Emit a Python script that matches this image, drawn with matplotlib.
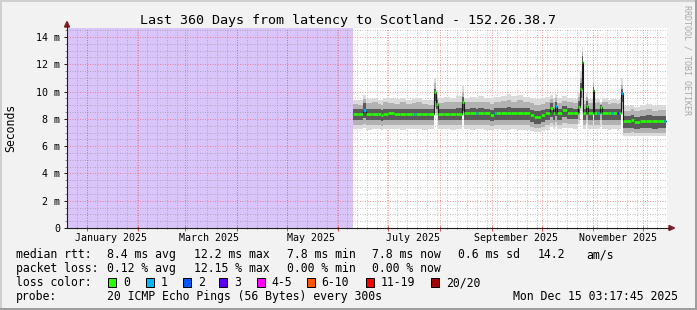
import matplotlib
matplotlib.use("Agg")
import matplotlib.pyplot as plt
from matplotlib.patches import Polygon, Rectangle
from matplotlib.lines import Line2D
from matplotlib.transforms import blended_transform_factory

plt.rcParams['font.family'] = 'DejaVu Sans Mono'

W, H = 697, 310

# ---------------- data ----------------
# time axis: days since graph start (Fri Dec 20 2024 03:17:45), 360 days shown
span_days = 360
start_frac = 0.137  # 03:17:45 as part of a day

# first day of each month 2025, counted from Dec 20 2024 00:00
month_start = [12, 43, 71, 102, 132, 163, 193, 224, 255, 285, 316, 346]
label_start = [12, 71, 132, 193, 255, 316]
month_labels = ["January 2025", "March 2025", "May 2025", "July 2025",
                "September 2025", "November 2025"]

y_ticks = [0, 2, 4, 6, 8, 10, 12, 14]
y_labels = ["0", "2 m", "4 m", "6 m", "8 m", "10 m", "12 m", "14 m"]

# start day of every rrd step (days since graph start); data ends at day_end
day = [171.6, 174.6, 177.6, 179.4, 183.0, 186.6, 188.4, 189.6, 192.6, 196.2,
       199.8, 203.4, 207.0, 208.2, 209.4, 213.0, 216.6, 220.2, 221.4, 222.6,
       226.2, 229.8, 233.4, 237.0, 238.2, 241.8, 245.4, 246.6, 250.2, 253.8,
       256.2, 257.4, 260.4, 264.0, 266.4, 270.0, 273.6, 277.8, 280.2, 284.4,
       286.8, 289.8, 291.6, 292.8, 294.0, 297.0, 300.0, 303.6, 306.6, 307.8,
       308.7, 309.6, 311.4, 312.6, 315.3, 316.2, 318.0, 319.2, 319.8, 321.0,
       324.6, 326.4, 327.6, 330.0, 331.2, 332.1, 333.6, 338.4, 340.2, 343.8,
       347.4, 351.0, 354.6, 358.2]
day_end = 359.4

# median rtt (ms)
median = [8.36, 8.36, 8.65, 8.35, 8.35, 8.35, 8.25, 8.35, 8.42, 8.36,
          8.36, 8.36, 8.36, 8.36, 8.36, 8.36, 8.36, 9.95, 9.12, 8.36,
          8.38, 8.38, 8.38, 9.20, 8.40, 8.40, 8.40, 8.40, 8.40, 8.30,
          8.40, 8.40, 8.40, 8.40, 8.40, 8.40, 8.40, 8.25, 8.13, 8.25,
          8.40, 8.77, 8.40, 8.94, 8.40, 8.65, 8.45, 8.45, 8.90, 10.19,
          12.20, 8.40, 8.92, 8.40, 10.10, 8.40, 8.40, 8.40, 8.87, 8.40,
          8.40, 8.40, 8.40, 8.40, 8.40, 9.87, 7.85, 7.95, 7.80, 7.87,
          7.87, 7.87, 7.87, 7.87]

# smoke: sorted ping quantiles (ms), outer -> inner
ping_max = [9.40, 9.35, 9.75, 9.45, 9.50, 9.40, 9.40, 9.55, 9.50, 9.45,
            9.55, 9.40, 9.50, 9.45, 9.50, 9.40, 9.35, 11.00, 9.85, 9.50,
            9.60, 9.55, 9.65, 10.50, 9.55, 9.60, 9.55, 9.65, 9.55, 9.50,
            9.60, 9.60, 9.70, 9.85, 9.65, 9.75, 9.60, 9.55, 9.45, 9.50,
            9.60, 9.75, 9.55, 9.80, 9.50, 9.65, 9.55, 9.45, 9.90, 11.50,
            13.30, 9.40, 9.87, 9.45, 11.00, 9.45, 9.50, 9.45, 9.26, 9.50,
            9.40, 9.45, 9.45, 9.40, 9.45, 10.97, 8.95, 9.05, 8.90, 9.00,
            9.10, 8.95, 9.05, 9.00]
ping_hi2 = [9.10, 9.05, 9.45, 9.15, 9.20, 9.10, 9.05, 9.20, 9.15, 9.10,
            9.20, 9.10, 9.15, 9.15, 9.20, 9.10, 9.05, 10.60, 9.60, 9.15,
            9.20, 9.20, 9.25, 10.00, 9.20, 9.25, 9.20, 9.25, 9.20, 9.10,
            9.25, 9.25, 9.30, 9.40, 9.25, 9.35, 9.25, 9.15, 9.05, 9.10,
            9.20, 9.45, 9.20, 9.50, 9.15, 9.30, 9.20, 9.15, 9.60, 11.00,
            12.90, 9.10, 9.60, 9.15, 10.60, 9.15, 9.20, 9.15, 9.10, 9.20,
            9.10, 9.15, 9.15, 9.10, 9.15, 10.50, 8.60, 8.70, 8.55, 8.65,
            8.70, 8.60, 8.65, 8.65]
ping_hi1 = [8.72, 8.70, 9.15, 8.70, 8.72, 8.70, 8.65, 8.72, 8.75, 8.70,
            8.72, 8.70, 8.72, 8.72, 8.72, 8.70, 8.70, 10.20, 9.35, 8.72,
            8.75, 8.75, 8.78, 9.60, 8.75, 8.78, 8.75, 8.78, 8.75, 8.68,
            8.78, 8.78, 8.80, 8.85, 8.78, 8.82, 8.78, 8.65, 8.55, 8.62,
            8.75, 9.15, 8.75, 9.20, 8.72, 8.95, 8.78, 8.75, 9.30, 10.60,
            12.60, 8.70, 9.30, 8.72, 10.30, 8.72, 8.75, 8.72, 9.00, 8.75,
            8.70, 8.72, 8.72, 8.70, 8.72, 10.20, 8.20, 8.28, 8.15, 8.22,
            8.25, 8.20, 8.22, 8.22]
ping_lo1 = [7.92, 7.90, 8.05, 7.90, 7.92, 7.90, 7.85, 7.92, 7.95, 7.92,
            7.90, 7.92, 7.92, 7.92, 7.92, 7.90, 7.92, 9.30, 8.70, 7.92,
            7.95, 7.92, 7.95, 8.60, 7.95, 7.95, 7.95, 7.95, 7.92, 7.85,
            7.95, 7.95, 7.95, 7.92, 7.95, 7.95, 7.92, 7.80, 7.65, 7.78,
            7.95, 8.10, 7.95, 8.20, 7.95, 8.10, 7.98, 7.98, 8.40, 9.50,
            11.00, 7.95, 8.30, 7.95, 9.00, 7.95, 7.95, 7.95, 8.40, 7.95,
            7.95, 7.95, 7.95, 7.95, 7.95, 9.20, 7.30, 7.35, 7.25, 7.30,
            7.30, 7.28, 7.30, 7.30]
ping_lo2 = [7.55, 7.55, 7.60, 7.55, 7.52, 7.55, 7.50, 7.55, 7.58, 7.55,
            7.52, 7.55, 7.55, 7.55, 7.55, 7.52, 7.55, 8.90, 8.40, 7.55,
            7.58, 7.55, 7.55, 8.45, 7.55, 7.58, 7.55, 7.55, 7.55, 7.48,
            7.55, 7.55, 7.55, 7.52, 7.55, 7.55, 7.52, 7.40, 7.35, 7.40,
            7.55, 7.70, 7.55, 7.80, 7.55, 7.70, 7.60, 7.60, 7.90, 9.00,
            9.50, 7.55, 7.90, 7.55, 8.40, 7.55, 7.55, 7.55, 7.90, 7.55,
            7.55, 7.55, 7.55, 7.55, 7.55, 8.70, 7.00, 7.02, 6.98, 7.00,
            7.00, 6.98, 7.00, 7.00]
ping_min = [7.26, 7.25, 7.30, 7.22, 7.25, 7.28, 7.22, 7.25, 7.28, 7.25,
            7.22, 7.25, 7.28, 7.25, 7.25, 7.22, 7.25, 8.50, 8.20, 7.25,
            7.25, 7.22, 7.25, 8.40, 7.25, 7.22, 7.25, 7.25, 7.22, 7.15,
            7.25, 7.25, 7.22, 7.20, 7.25, 7.22, 7.20, 7.10, 7.05, 7.10,
            7.22, 7.40, 7.25, 7.50, 7.25, 7.35, 7.30, 7.28, 7.60, 8.60,
            8.50, 7.25, 7.60, 7.25, 8.20, 7.25, 7.25, 7.25, 7.50, 7.25,
            7.22, 7.25, 7.25, 7.22, 7.25, 8.40, 6.75, 6.78, 6.72, 6.75,
            6.75, 6.72, 6.75, 6.75]

# lost pings out of 20 per step
loss = [0, 0, 1, 0, 0, 0, 0, 0, 0, 0,
        0, 0, 0, 1, 0, 0, 0, 0, 0, 0,
        0, 0, 0, 0, 0, 0, 1, 0, 0, 0,
        1, 0, 0, 0, 0, 0, 0, 0, 0, 0,
        0, 0, 0, 1, 0, 0, 0, 0, 0, 0,
        0, 0, 0, 0, 0, 0, 1, 0, 0, 0,
        0, 1, 0, 3, 0, 1, 0, 0, 0, 0,
        0, 0, 0, 1]

loss_labels = ["0", "1", "2", "3", "4-5", "6-10", "11-19", "20/20"]
loss_colors = ["#26ff00", "#00b8ff", "#0059ff", "#5e00ff",
               "#ff00ff", "#ff5500", "#ff0000", "#a10000"]

title = "Last 360 Days from latency to Scotland - 152.26.38.7"
stats_rtt = ["8.4 ms avg", "12.2 ms max", "7.8 ms min", "7.8 ms now",
             "0.6 ms sd", "14.2", "am/s"]
stats_loss = ["0.12 % avg", "12.15 % max", "0.00 % min", "0.00 % now"]
probe_text = "20 ICMP Echo Pings (56 Bytes) every 300s"
stamp = "Mon Dec 15 03:17:45 2025"


def loss_color(n):
    if n == 0:
        return loss_colors[0]
    if n <= 3:
        return loss_colors[n]
    if n <= 5:
        return loss_colors[4]
    if n <= 10:
        return loss_colors[5]
    if n <= 19:
        return loss_colors[6]
    return loss_colors[7]


def fx(px):
    return px / W


def fy(py):
    return 1 - py / H


# ---------------- figure ----------------
fig = plt.figure(figsize=(W / 100, H / 100), dpi=100, facecolor="#f2f2f2")

# 3d frame like rrdtool
for (x0, y0, w, h, c) in [(0, 0, W, 2, "#cfcfcf"), (0, 0, 2, H, "#cfcfcf"),
                          (0, H - 2, W, 2, "#9e9e9e"), (W - 2, 0, 2, H, "#9e9e9e")]:
    fig.add_artist(Rectangle((fx(x0), fy(y0 + h)), w / W, h / H,
                             transform=fig.transFigure, color=c, lw=0))

ax = fig.add_axes([fx(67), fy(228), 600 / W, 200 / H])
ax.set_facecolor("white")
ax.set_xlim(0, span_days)
ax.set_ylim(0, 14.66)
for s in ax.spines.values():
    s.set_visible(False)

edges = day + [day_end]
ext = lambda a: a + [a[-1]]

# unknown data before the first sample
ax.axvspan(0, day[0], color="#dac5fb", lw=0, zorder=0.5)

# grid: over the unknown area, under the smoke
minor_grid = (0.5, 0.5, 0.5, 0.45)
major_grid = (0.92, 0.3, 0.3, 0.55)
for k in range(1, 30):
    v = k * 0.5
    c = major_grid if k % 4 == 0 else minor_grid
    ax.axhline(v, color=c, lw=0.72, ls=(0, (1, 1.5)), zorder=1)
for d in range(6, span_days, 6):
    ax.axvline(d - start_frac, color=minor_grid, lw=0.72, ls=(0, (1, 1.5)), zorder=1)
for d in month_start:
    ax.axvline(d - start_frac, color=major_grid, lw=0.72, ls=(0, (1, 1.5)), zorder=1)

# smoke, outer to inner
ax.fill_between(edges, ext(ping_min), ext(ping_max), step="post",
                color="#dadada", lw=0, zorder=2)
ax.fill_between(edges, ext(ping_lo2), ext(ping_hi2), step="post",
                color="#b2b2b2", lw=0, zorder=2)
ax.fill_between(edges, ext(ping_lo1), ext(ping_hi1), step="post",
                color="#5a5a5a", lw=0, zorder=2)

# median line coloured by loss
ax.step(edges, ext(median), where="post", color="#1a1a1a", lw=0.8, zorder=4)
for i in range(len(day)):
    ax.hlines(median[i], edges[i], edges[i + 1], colors=loss_color(loss[i]),
              lw=1.9, zorder=5)

# ticks
ax.set_yticks(y_ticks)
ax.set_yticklabels(y_labels)
ax.set_yticks([k * 0.5 for k in range(30) if k % 4], minor=True)
ax.tick_params(axis="y", which="major", length=2.5, width=0.72, color="#1f1f1f",
               pad=2.5, labelsize=7.2)
ax.tick_params(axis="y", which="minor", length=1.5, width=0.72, color="#8f8f8f")
ax.set_xticks([d - start_frac for d in month_start])
ax.set_xticks([d - start_frac for d in range(6, span_days, 6)], minor=True)
ax.tick_params(axis="x", which="major", direction="inout", length=3.6, width=0.72,
               color=(0.87, 0.31, 0.31), labelbottom=False)
ax.tick_params(axis="x", which="minor", direction="inout", length=1.5, width=0.72,
               color="#8f8f8f")

trans = blended_transform_factory(ax.transData, fig.transFigure)
for d, lab in zip(label_start, month_labels):
    ax.text(d + 14.5 - start_frac, fy(241), lab, transform=trans, ha="center",
            va="baseline", fontsize=7.2)

# axes with arrows
fig.add_artist(Line2D([fx(67), fx(67)], [fy(228), fy(26)], color="#1f1f1f", lw=0.8))
fig.add_artist(Line2D([fx(67), fx(669)], [fy(228), fy(228)], color="#1f1f1f", lw=0.8))
fig.add_artist(Polygon([(fx(64.5), fy(27)), (fx(69.5), fy(27)), (fx(67), fy(21.5))],
                       closed=True, color="#801f1f", transform=fig.transFigure))
fig.add_artist(Polygon([(fx(669), fy(225.5)), (fx(669), fy(230.5)), (fx(674.5), fy(228))],
                       closed=True, color="#801f1f", transform=fig.transFigure))

# texts
fig.text(fx(347.5), fy(24), title, ha="center", va="baseline", fontsize=9.6)
fig.text(fx(10.5), fy(127.5), "Seconds", rotation=90, ha="center", va="center",
         fontsize=8.3)
fig.text(fx(686.7), fy(5), "RRDTOOL / TOBI OETIKER", rotation=270, ha="center",
         va="top", fontsize=6, color="#a8a8a8")

fs = 8.3
fig.text(fx(16), fy(258.3), "median rtt:", fontsize=fs, va="baseline")
for x, s in zip([107.3, 194, 286.7, 372.3, 458.3, 537.3, 586], stats_rtt):
    fig.text(fx(x), fy(258.3), s, fontsize=fs, va="baseline")
fig.text(fx(16), fy(272.3), "packet loss:", fontsize=fs, va="baseline")
for x, s in zip([107.3, 194, 286.7, 372.3], stats_loss):
    fig.text(fx(x), fy(272.3), s, fontsize=fs, va="baseline")

fig.text(fx(16), fy(286), "loss color:", fontsize=fs, va="baseline")
box_x = [108.3, 145.7, 182.7, 219.3, 256.7, 306.7, 365.7, 431]
for bx, lab, col in zip(box_x, loss_labels, loss_colors):
    fig.add_artist(Rectangle((fx(bx), fy(286.5)), 8 / W, 8.5 / H,
                             transform=fig.transFigure, facecolor=col,
                             edgecolor="black", lw=0.72))
    fig.text(fx(bx + 15), fy(286), lab, fontsize=fs, va="baseline")

fig.text(fx(16), fy(300), "probe:", fontsize=fs, va="baseline")
fig.text(fx(107.3), fy(300), probe_text, fontsize=fs, va="baseline")
fig.text(fx(512.7), fy(300), stamp, fontsize=fs, va="baseline")

fig.savefig("out.png", dpi=100, facecolor=fig.get_facecolor())
